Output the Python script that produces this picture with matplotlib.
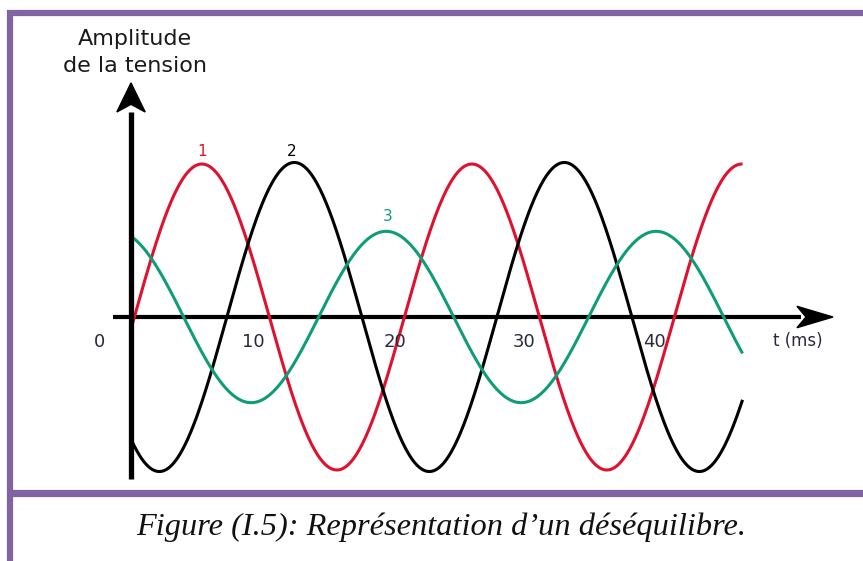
import numpy as np
import matplotlib
matplotlib.use("Agg")
import matplotlib.pyplot as plt
from matplotlib.patches import Polygon

# three phase voltages, unbalanced (period 20 ms = 50 Hz)
period_ms = 20.0
t_end_ms = 45.3
phase_names = ["1", "2", "3"]
amplitudes = [1.0, 1.01, 0.56]
delays_ms = [0.25, 7.1, 13.9]
colors = ["#e0102f", "#000000", "#0f9d78"]
# where the numbers "1", "2", "3" sit (t in ms, amplitude)
label_pos = [(5.3, 1.08), (11.9, 1.08), (19.0, 0.66)]

tick_values = [0, 10, 20, 30, 40]
# the printed labels are shifted from the true ticks in the original
tick_label_x = [-2.3, 9.05, 19.55, 29.1, 38.75]

caption = "Figure (I.5): Représentation d\u2019un déséquilibre."

fig = plt.figure(figsize=(8.63, 5.61), dpi=100)
ax = fig.add_axes([0, 0, 1, 1])
# 13.5 px per ms, t=0 at x=131 px ; amplitude 1 = 153 px, zero at y=317 px
px_ms = 13.5
ax.set_xlim(-131 / px_ms, (863 - 131) / px_ms)
ax.set_ylim(-(561 - 317) / 153, 317 / 153)
ax.axis("off")

t = np.linspace(0, t_end_ms, 600)
for amp, d, c in zip(amplitudes, delays_ms, colors):
    ax.plot(t, amp * np.sin(2 * np.pi * (t - d) / period_ms), color=c, lw=2.2,
            solid_capstyle="butt", zorder=3)

for name, (x, y), c in zip(phase_names, label_pos, colors):
    ax.text(x, y, name, color=c, fontsize=11, ha="center", va="center",
            family="DejaVu Sans", zorder=4)

# axes with notched arrow heads
ax.plot([-1.3, 49.6], [0, 0], color="black", lw=3.0, zorder=2, solid_capstyle="butt")
ax.plot([0, 0], [-1.06, 1.34], color="black", lw=3.8, zorder=5, solid_capstyle="butt")
hx = Polygon([(52.0, 0), (49.33, 0.07), (50.0, 0), (49.33, -0.07)],
             closed=True, color="black", zorder=5)
hy = Polygon([(0, 1.53), (-1.05, 1.34), (0, 1.39), (1.05, 1.34)],
             closed=True, color="black", zorder=5)
ax.add_patch(hx)
ax.add_patch(hy)

for v, x in zip(tick_values, tick_label_x):
    ax.text(x, -0.165, str(v), fontsize=13, color="#2a2a3a", ha="center",
            va="center", family="DejaVu Sans")
ax.text(49.4, -0.16, "t (ms)", fontsize=12, color="#2a2a3a", ha="center",
        va="center", family="DejaVu Sans")

ax.text(0.3, 1.82, "Amplitude", fontsize=16, color="#1a1a1a", ha="center",
        va="center", family="DejaVu Sans")
ax.text(0.3, 1.64, "de la tension", fontsize=16, color="#1a1a1a", ha="center",
        va="center", family="DejaVu Sans")

# purple frame of the document
purple = "#8064a2"
fig.add_artist(plt.Line2D([7 / 863, 1], [1 - 13 / 561] * 2, color=purple, lw=4.5,
                          transform=fig.transFigure, solid_capstyle="butt"))
fig.add_artist(plt.Line2D([7 / 863, 1], [1 - 493 / 561] * 2, color=purple, lw=5.2,
                          transform=fig.transFigure, solid_capstyle="butt"))
fig.add_artist(plt.Line2D([10 / 863] * 2, [0, 1 - 10 / 561], color=purple, lw=4.5,
                          transform=fig.transFigure, solid_capstyle="butt"))

fig.text(441 / 863, 1 - 527 / 561, caption, fontsize=23.3, style="italic",
         family="Liberation Serif", ha="center", va="center", color="#111111")

fig.savefig("out.png", dpi=100)
